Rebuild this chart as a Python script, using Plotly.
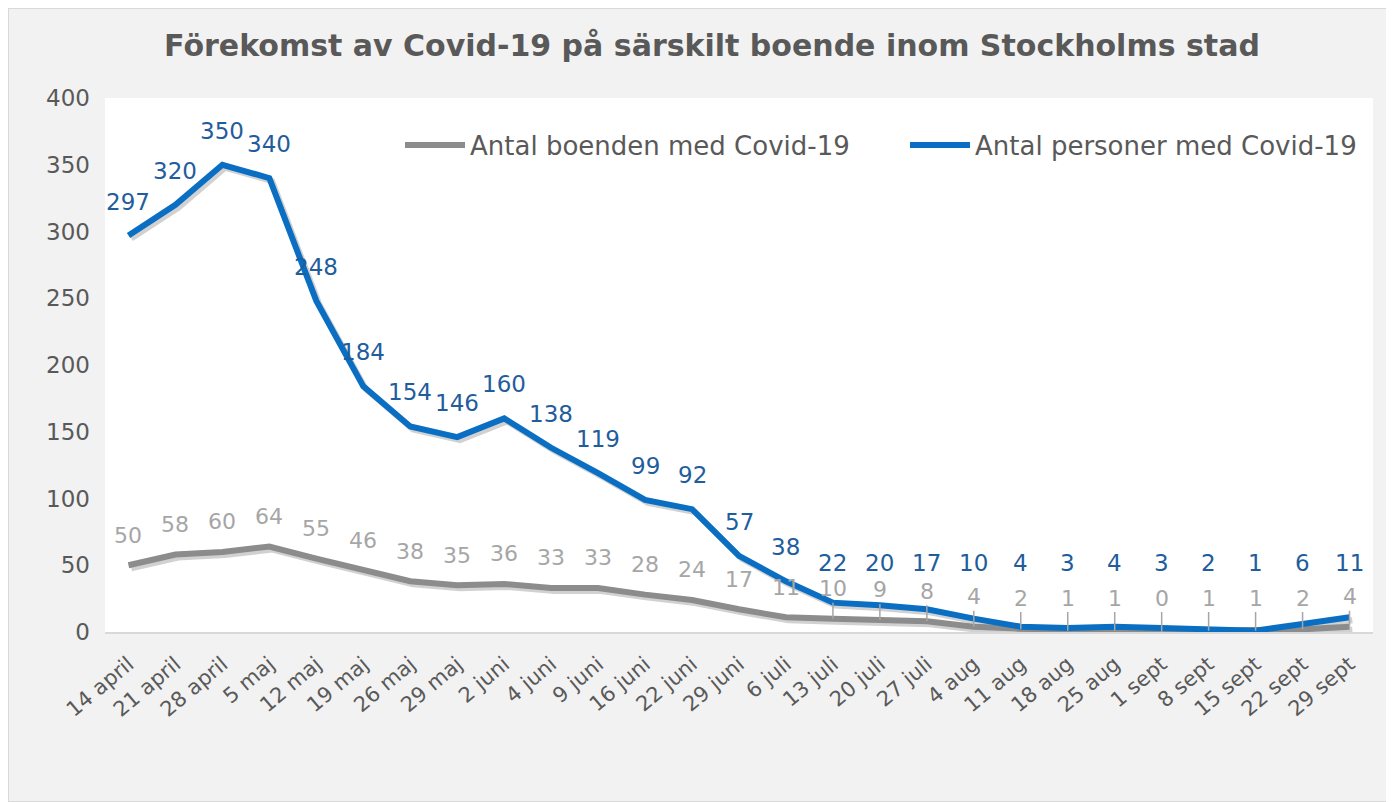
import plotly.graph_objects as go

categories = ["14 april", "21 april", "28 april", "5 maj", "12 maj", "19 maj", "26 maj", "29 maj",
              "2 juni", "4 juni", "9 juni", "16 juni", "22 juni", "29 juni", "6 juli", "13 juli",
              "20 juli", "27 juli", "4 aug", "11 aug", "18 aug", "25 aug", "1 sept", "8 sept",
              "15 sept", "22 sept", "29 sept"]
boenden = [50, 58, 60, 64, 55, 46, 38, 35, 36, 33, 33, 28, 24, 17, 11, 10, 9, 8, 4, 2, 1, 1, 0, 1, 1, 2, 4]
personer = [297, 320, 350, 340, 248, 184, 154, 146, 160, 138, 119, 99, 92, 57, 38, 22, 20, 17, 10, 4, 3, 4, 3, 2, 1, 6, 11]
y_ticks = [0, 50, 100, 150, 200, 250, 300, 350, 400]

# page has an 8px body margin; size the figure so the plot area lands where the reference has it
OFF = 8
W, H = 1394 - OFF, 802 - OFF
L, R, T, B = 105 - OFF, 21, 98 - OFF, 170
plot_w = W - L - R
plot_h = H - T - B
px_per_unit = plot_h / 400.0

FONT = "DejaVu Sans, Verdana, sans-serif"
GRAY_LINE = "#8c8c8c"
BLUE_LINE = "#0a6fc2"
GRAY_TXT = "#a6a6a6"
BLUE_TXT = "#1f5d9c"
AX_TXT = "#595959"

x = list(range(len(categories)))
fig = go.Figure()

# soft drop shadows under the lines
for vals in (boenden, personer):
    fig.add_trace(go.Scatter(x=[i + 0.06 for i in x], y=[v - 3 / px_per_unit for v in vals], mode="lines",
                             line=dict(color="rgba(0,0,0,0.18)", width=6), showlegend=False,
                             hoverinfo="skip"))

fig.add_trace(go.Scatter(x=x, y=boenden, mode="lines", name="Antal boenden med Covid-19",
                         line=dict(color=GRAY_LINE, width=6), legend="legend"))
fig.add_trace(go.Scatter(x=x, y=personer, mode="lines", name="Antal personer med Covid-19",
                         line=dict(color=BLUE_LINE, width=6), legend="legend2"))

annotations = []
for i, v in enumerate(boenden):
    lab = max(v + 30 / px_per_unit, 34 / px_per_unit)
    leader = i >= 15
    annotations.append(dict(x=i, y=v if leader else lab, xref="x", yref="y", text=str(v),
                            showarrow=leader, ax=i, ay=lab, axref="x", ayref="y",
                            arrowhead=0, arrowwidth=1.5, arrowcolor="#a6a6a6", standoff=0,
                            font=dict(family=FONT, size=22, color=GRAY_TXT)))
for i, v in enumerate(personer):
    lab = max(v + 34 / px_per_unit, 69 / px_per_unit)
    annotations.append(dict(x=i, y=lab, xref="x", yref="y", text=str(v), showarrow=False,
                            font=dict(family=FONT, size=23, color=BLUE_TXT)))

legend_common = dict(orientation="h", xanchor="left", yanchor="middle", y=(632 - 145) / plot_h,
                     bgcolor="rgba(0,0,0,0)", itemwidth=60,
                     font=dict(family=FONT, size=26, color=AX_TXT))

fig.update_layout(
    width=W, height=H,
    margin=dict(l=L, r=R, t=T, b=B),
    paper_bgcolor="#f2f2f2",
    plot_bgcolor="#ffffff",
    title=dict(text="<b>Förekomst av Covid-19 på särskilt boende inom Stockholms stad</b>",
               x=(712 - OFF) / W, xanchor="center", y=1 - (45 - OFF) / H, yanchor="middle",
               font=dict(family=FONT, size=30, color=AX_TXT)),
    xaxis=dict(tickmode="array", tickvals=x, ticktext=categories, range=[-0.5, len(x) - 0.5],
               tickangle=-40, showgrid=False, zeroline=False, showline=True,
               linecolor="#d9d9d9", linewidth=1.5, ticks="", ticklabelstandoff=10,
               tickfont=dict(family=FONT, size=21, color=AX_TXT)),
    yaxis=dict(range=[0, 400], tickvals=y_ticks, showgrid=False, zeroline=False,
               showline=False, ticks="", ticklabelstandoff=14,
               tickfont=dict(family=FONT, size=23, color=AX_TXT)),
    legend=dict(x=(405 - 5 - 105) / plot_w, **legend_common),
    legend2=dict(x=(910 - 5 - 105) / plot_w, **legend_common),
    annotations=annotations,
    showlegend=True,
)

# light frame around the chart
fig.add_shape(type="rect", xref="paper", yref="paper",
              x0=-L / plot_w, x1=(W - L) / plot_w, y0=-B / plot_h, y1=(H - B) / plot_h,
              fillcolor="rgba(0,0,0,0)", line=dict(width=2, color="#d9d9d9"), layer="above")

fig.write_html("out.html")
